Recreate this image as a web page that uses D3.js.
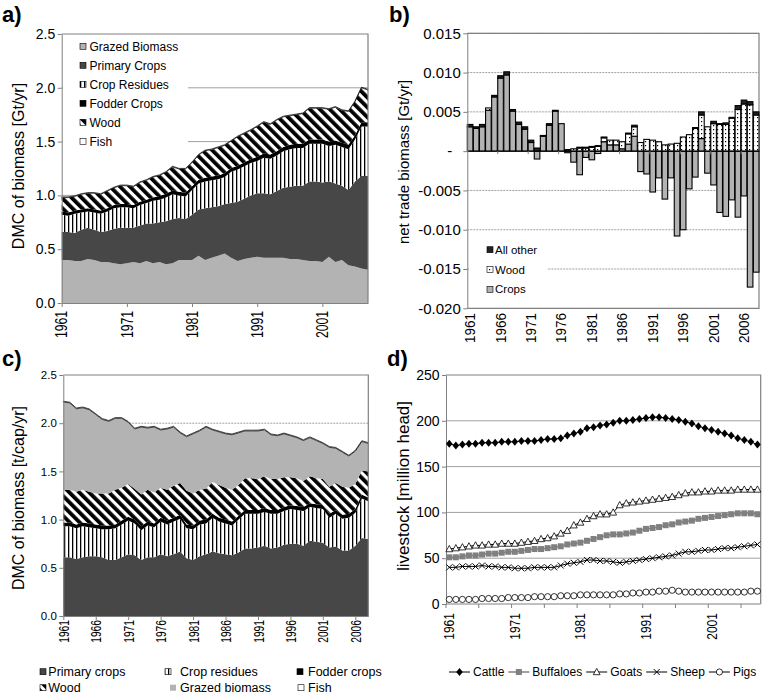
<!DOCTYPE html>
<html><head><meta charset="utf-8">
<script src="https://cdn.jsdelivr.net/npm/d3@7"></script>
<style>body{margin:0;background:#fff} svg{display:block} text{font-family:"Liberation Sans",Arial,Helvetica,sans-serif}</style>
</head><body>
<svg id="chart" width="763" height="696"></svg>
<script>
const FONT = '"Liberation Sans",Arial,Helvetica,sans-serif';
const years = [1961,1962,1963,1964,1965,1966,1967,1968,1969,1970,1971,1972,1973,1974,1975,1976,1977,1978,1979,1980,
1981,1982,1983,1984,1985,1986,1987,1988,1989,1990,1991,1992,1993,1994,1995,1996,1997,1998,1999,2000,
2001,2002,2003,2004,2005,2006,2007,2008];

// ---- panel a: DMC of biomass [Gt/yr]
const aGrazed = [0.40,0.40,0.39,0.39,0.41,0.40,0.38,0.38,0.37,0.36,0.37,0.38,0.37,0.39,0.37,0.38,0.36,0.37,0.40,0.40,
0.40,0.44,0.40,0.42,0.44,0.46,0.42,0.39,0.41,0.42,0.43,0.42,0.42,0.42,0.42,0.41,0.41,0.40,0.39,0.39,0.38,0.43,0.38,0.40,0.35,0.34,0.32,0.31];
const aPrimary = [0.26,0.26,0.26,0.29,0.29,0.28,0.28,0.29,0.32,0.34,0.33,0.32,0.35,0.35,0.37,0.37,0.40,0.41,0.39,0.38,
0.42,0.43,0.48,0.47,0.46,0.46,0.51,0.55,0.56,0.58,0.59,0.60,0.59,0.62,0.65,0.67,0.68,0.69,0.74,0.74,0.74,0.70,0.73,0.69,0.70,0.79,0.86,0.87];
const aResidues = [0.16,0.15,0.18,0.16,0.15,0.16,0.17,0.18,0.19,0.19,0.19,0.18,0.19,0.19,0.21,0.21,0.22,0.23,0.21,0.21,
0.23,0.24,0.25,0.25,0.25,0.25,0.29,0.30,0.30,0.30,0.30,0.33,0.33,0.33,0.34,0.35,0.35,0.35,0.35,0.35,0.36,0.33,0.36,0.36,0.38,0.39,0.46,0.46];
const aFodder = [0.03,0.03,0.03,0.03,0.03,0.03,0.03,0.03,0.03,0.03,0.03,0.03,0.03,0.03,0.03,0.035,0.035,0.035,0.035,0.035,
0.035,0.035,0.035,0.035,0.035,0.035,0.035,0.035,0.035,0.035,0.04,0.04,0.04,0.04,0.04,0.04,0.04,0.04,0.04,0.04,0.04,0.04,0.04,0.04,0.04,0.04,0.04,0.04];
const aWood = [0.13,0.14,0.13,0.14,0.14,0.15,0.15,0.16,0.16,0.17,0.17,0.17,0.18,0.18,0.19,0.19,0.20,0.22,0.21,0.22,
0.22,0.23,0.25,0.25,0.26,0.26,0.25,0.27,0.27,0.27,0.28,0.29,0.28,0.29,0.28,0.27,0.27,0.28,0.29,0.29,0.29,0.30,0.31,0.30,0.31,0.31,0.32,0.30];
const aFish = [0.006,0.006,0.006,0.006,0.006,0.006,0.006,0.006,0.006,0.006,0.006,0.006,0.006,0.006,0.006,0.006,0.006,0.006,0.006,0.006,
0.006,0.006,0.006,0.006,0.006,0.006,0.006,0.006,0.006,0.006,0.006,0.006,0.006,0.006,0.006,0.006,0.006,0.006,0.006,0.006,0.006,0.006,0.006,0.006,0.006,0.006,0.006,0.006];
const aTicks = [0,0.5,1.0,1.5,2.0,2.5];
const aYearTicks = [1961,1971,1981,1991,2001];

// ---- panel b: net trade biomass [Gt/yr]
const bCrops = [0.0031,0.0029,0.0031,0.0052,0.0069,0.0093,0.0097,0.0051,0.0034,0.0028,0.0011,-0.0010,0.0019,0.0033,0.0051,0.0035,-0.0002,-0.0014,-0.0030,-0.0008,
-0.0011,-0.0003,0.0012,0.0008,0.0008,0.0003,0.0009,0.0019,-0.0026,-0.0029,-0.0052,-0.0034,-0.0061,-0.0034,-0.0108,-0.0100,-0.0048,-0.0033,0.0016,-0.0028,
-0.0043,-0.0078,-0.0083,-0.0062,-0.0084,-0.0057,-0.0173,-0.0154];
const bWood = [0,0,0,0.0003,0,0,0,0,0,0,0,0,0,0,0,0,0,0.0003,0.0004,0.0004,
0.0005,0.0006,0.0005,0.0006,0.0006,0.0009,0.0013,0.0012,0.0011,0.0015,0.0014,0.0012,0.0008,0.0009,0.0010,0.0018,0.0021,0.0029,0.0030,0.0031,
0.0035,0.0034,0.0034,0.0042,0.0053,0.0060,0.0059,0.0046];
const bOther = [0.0003,0.0002,0.0003,0,0.0002,0.0003,0.0004,0.0002,0.0003,0.0003,0.0003,0.0004,0.0001,0.0002,0.0001,0,0.0002,0,0.0001,0.0001,
0.0001,0.0001,0.0001,0,0,0,0.0001,0.0002,0,0,0,0,0,0,0,0,0,0.0001,0.0004,0,
0.0003,0.0001,0.0002,0.0001,0.0005,0.0005,0.0004,0.0004];
const bTicks = [0.015,0.010,0.005,0,-0.005,-0.010,-0.015,-0.020];

// ---- panel c: DMC of biomass [t/cap/yr]
const cPrimary = [0.61,0.61,0.59,0.61,0.62,0.62,0.61,0.58,0.58,0.61,0.64,0.63,0.58,0.61,0.61,0.64,0.62,0.64,0.67,0.60,
0.58,0.62,0.64,0.67,0.65,0.64,0.63,0.66,0.70,0.70,0.71,0.73,0.70,0.71,0.74,0.75,0.75,0.73,0.78,0.77,0.76,0.71,0.72,0.68,0.68,0.73,0.81,0.80];
const cResidues = [0.32,0.32,0.32,0.32,0.30,0.29,0.29,0.32,0.33,0.34,0.35,0.33,0.31,0.33,0.31,0.34,0.33,0.34,0.34,0.31,
0.32,0.33,0.32,0.35,0.33,0.32,0.31,0.34,0.36,0.36,0.35,0.35,0.36,0.35,0.35,0.36,0.35,0.36,0.35,0.35,0.35,0.31,0.34,0.33,0.34,0.34,0.41,0.39];
const cFodder = [0.04,0.04,0.04,0.04,0.04,0.04,0.04,0.04,0.04,0.04,0.04,0.04,0.04,0.04,0.04,0.04,0.04,0.04,0.04,0.04,
0.04,0.04,0.04,0.04,0.04,0.04,0.04,0.04,0.04,0.04,0.04,0.04,0.04,0.04,0.04,0.04,0.04,0.04,0.04,0.04,0.04,0.04,0.04,0.04,0.04,0.04,0.04,0.04];
const cWood = [0.34,0.34,0.34,0.34,0.33,0.32,0.33,0.33,0.36,0.34,0.34,0.32,0.33,0.33,0.32,0.31,0.32,0.33,0.33,0.35,
0.33,0.32,0.32,0.33,0.34,0.33,0.33,0.32,0.33,0.33,0.32,0.33,0.32,0.32,0.31,0.29,0.29,0.27,0.28,0.27,0.27,0.28,0.28,0.29,0.27,0.26,0.25,0.27];
const cGrazed = [0.91,0.90,0.86,0.85,0.85,0.82,0.77,0.75,0.74,0.72,0.64,0.62,0.70,0.64,0.68,0.60,0.63,0.61,0.52,0.56,
0.62,0.61,0.64,0.54,0.55,0.56,0.57,0.54,0.49,0.49,0.50,0.48,0.46,0.45,0.45,0.43,0.42,0.42,0.40,0.39,0.37,0.41,0.36,0.36,0.33,0.34,0.30,0.29];
const cFish = [0.008,0.008,0.008,0.008,0.008,0.008,0.008,0.008,0.008,0.008,0.008,0.008,0.008,0.008,0.008,0.008,0.008,0.008,0.008,0.008,
0.008,0.008,0.008,0.008,0.008,0.008,0.008,0.008,0.008,0.008,0.008,0.008,0.008,0.008,0.008,0.008,0.008,0.008,0.008,0.008,0.008,0.008,0.008,0.008,0.008,0.008,0.008,0.008];
const cTicks = [0,0.5,1.0,1.5,2.0,2.5];

// ---- panel d: livestock [million head]
const dCattle = [175,173,174,175,175,176,176,176,177,177,177,178,178,178,179,180,180,181,184,186,
188,192,193,195,196,198,200,200,201,202,203,204,204,203,202,201,199,197,194,192,190,188,186,184,181,179,177,174];
const dBuffaloes = [51,51,52,53,53,54,55,55,56,57,57,58,59,60,60,61,62,63,65,66,
67,69,71,73,75,76,76,77,78,80,82,83,84,86,87,89,90,91,93,94,95,96,97,98,99,99,99,98];
const dGoats = [60,61,62,63,64,64,65,65,66,66,66,67,68,69,71,72,74,77,80,86,
89,93,96,98,98,100,108,110,111,112,113,114,115,116,117,119,121,122,122,123,123,124,124,124,125,125,125,125];
const dSheep = [40,40,41,41,41,42,41,41,40,40,39,39,39,40,40,40,40,42,44,45,
46,48,48,47,47,46,45,46,47,48,49,50,51,52,53,55,57,57,58,59,59,60,61,61,62,63,64,65];
const dPigs = [5,5,5,5,5,6,6,6,6,7,7,7,7,8,8,8,8,9,9,9,
10,10,10,10,10,10,11,11,12,12,13,13,14,14,15,14,13,13,13,13,13,13,13,13,13,13,14,14];
const dTicks = [0,50,100,150,200,250];

// ================= drawing =================
const svg = d3.select('#chart');
const defs = svg.append('defs');
const GRID = '#a0a0a0', AX = '#808080';

// patterns
const pw = defs.append('pattern').attr('id','woodHatch').attr('patternUnits','userSpaceOnUse')
  .attr('width',7).attr('height',7).attr('patternTransform','rotate(-45)');
pw.append('rect').attr('width',7).attr('height',7).attr('fill','#fff');
pw.append('rect').attr('width',3.8).attr('height',7).attr('fill','#000');
const pr = defs.append('pattern').attr('id','resHatch').attr('patternUnits','userSpaceOnUse').attr('width',4).attr('height',4);
pr.append('rect').attr('width',4).attr('height',4).attr('fill','#fff');
pr.append('rect').attr('width',1.3).attr('height',4).attr('fill','#000');
const pd = defs.append('pattern').attr('id','dots').attr('patternUnits','userSpaceOnUse').attr('width',4).attr('height',4);
pd.append('rect').attr('width',4).attr('height',4).attr('fill','#fff');
pd.append('rect').attr('x',1).attr('y',1).attr('width',1.2).attr('height',1.2).attr('fill','#000');

const fills = {grazed:'#b3b3b3', primary:'#474747', residues:'url(#resHatch)', fodder:'#000', wood:'url(#woodHatch)', fish:'#fff'};

function letter(x, y, t){ svg.append('text').attr('x',x).attr('y',y).attr('font-size',22).attr('font-weight','bold').text(t); }
function ytitle(x, y, t, fs){ svg.append('text').attr('transform',`translate(${x},${y}) rotate(-90)`).attr('text-anchor','middle').attr('dy','0.35em').attr('font-size',fs).text(t); }
function vlabel(g, x, yTop, t, fs, sx){ g.append('text').attr('transform',`translate(${x},${yTop}) rotate(-90) scale(${sx},1)`).attr('text-anchor','end').attr('dy','0.36em').attr('font-size',fs).text(t); }
function yAxis(scale, x, ticks, fmt, fs){
  const g = svg.append('g').attr('transform',`translate(${x},0)`).call(d3.axisLeft(scale).tickValues(ticks).tickFormat(fmt).tickSize(4).tickPadding(2.5).tickSizeOuter(0));
  g.select('.domain').attr('stroke',AX);
  g.selectAll('.tick line').attr('stroke',AX);
  g.selectAll('.tick text').attr('font-size',fs).attr('font-family',FONT).attr('fill','#000');
  return g;
}
function frame(x0,x1,y0,y1,bottom){
  svg.append('path').attr('d',`M${x0},${y0}H${x1}V${y1}` + (bottom?`H${x0}`:'')).attr('fill','none').attr('stroke',AX).attr('stroke-width',1.2);
}

// ---------- Panel a ----------
{
  const x = d3.scaleLinear().domain([1961,2008]).range([61.7,368]);
  const y = d3.scaleLinear().domain([0,2.5]).range([303,34]);
  const keys = ['grazed','primary','residues','fodder','wood','fish'];
  const rows = years.map((yr,i)=>({year:yr, grazed:aGrazed[i], primary:aPrimary[i], residues:aResidues[i], fodder:aFodder[i], wood:aWood[i], fish:aFish[i]}));
  const series = d3.stack().keys(keys)(rows);
  svg.append('g').selectAll('line').data([0.5,1.0,1.5,2.0]).join('line')
    .attr('x1',x.range()[0]).attr('x2',x.range()[1]).attr('y1',d=>y(d)).attr('y2',d=>y(d)).attr('stroke',GRID);
  const area = d3.area().x(d=>x(d.data.year)).y0(d=>y(d[0])).y1(d=>y(d[1]));
  svg.append('g').selectAll('path').data(series).join('path').attr('d',area).attr('fill',d=>fills[d.key])
    .attr('stroke',d=>d.key==='fish'?'#000':'none').attr('stroke-width',0.7);
  frame(61.7,368,34,303,false);
  // legend
  svg.append('rect').attr('x',63).attr('y',36).attr('width',125).attr('height',114).attr('fill','#fff');
  const labels = ['Grazed Biomass','Primary Crops','Crop Residues','Fodder Crops','Wood','Fish'];
  labels.forEach((t,i)=>{
    const yy = 46.3 + i*19;
    svg.append('rect').attr('x',80).attr('y',yy-3).attr('width',6).attr('height',6).attr('fill',fills[keys[i]]).attr('stroke','#000').attr('stroke-width',0.6);
    svg.append('text').attr('x',89.5).attr('y',yy).attr('dy','0.36em').attr('font-size',12).text(t);
  });
  yAxis(y, 61.7, aTicks, d3.format('.1f'), 14);
  const gx = svg.append('g').attr('transform','translate(0,303)').call(d3.axisBottom(x).tickValues(aYearTicks).tickFormat('').tickSize(4).tickSizeOuter(0));
  gx.select('.domain').attr('stroke',AX); gx.selectAll('.tick line').attr('stroke',AX);
  const gl = svg.append('g');
  aYearTicks.forEach(t=>vlabel(gl, x(t), 311, String(t), 16, 0.76));
  ytitle(18.5, 166, 'DMC of biomass [Gt/yr]', 16);
  letter(2, 22, 'a)');
}

// ---------- Panel b ----------
{
  const x = d3.scaleBand().domain(years).range([467.3,759]).paddingInner(0.08);
  const y = d3.scaleLinear().domain([-0.020,0.015]).range([308.3,33.3]);
  const keys = ['crops','wood','other'];
  const rows = years.map((yr,i)=>({year:yr, crops:bCrops[i], wood:bWood[i], other:bOther[i]}));
  const series = d3.stack().keys(keys).offset(d3.stackOffsetDiverging)(rows);
  const bf = {crops:'#b3b3b3', wood:'url(#dots)', other:'#222'};
  svg.append('g').selectAll('line').data([0.015,0.010,0.005,-0.005,-0.010,-0.015]).join('line')
    .attr('x1',467.3).attr('x2',759).attr('y1',d=>y(d)).attr('y2',d=>y(d)).attr('stroke',GRID).attr('stroke-dasharray','2,1');
  frame(467.3,759,33.3,308.3,true);
  // legend box
  svg.append('rect').attr('x',469).attr('y',238).attr('width',78).attr('height',62).attr('fill','#fff');
  svg.append('g').selectAll('g').data(series).join('g').attr('fill',d=>bf[d.key])
    .selectAll('rect').data(d=>d.filter(v=>v[1]-v[0]!==0)).join('rect')
    .attr('x',d=>x(d.data.year)).attr('width',x.bandwidth())
    .attr('y',d=>y(Math.max(d[0],d[1]))).attr('height',d=>Math.abs(y(d[0])-y(d[1])))
    .attr('stroke','#000').attr('stroke-width',1.1);
  // zero axis
  const step = x.step();
  svg.append('line').attr('x1',467.3).attr('x2',759).attr('y1',y(0)).attr('y2',y(0)).attr('stroke','#000').attr('stroke-width',1);
  svg.append('g').selectAll('line').data([5,10,15,20,25,30,35,40,45]).join('line')
    .attr('x1',d=>467.3+step*d).attr('x2',d=>467.3+step*d).attr('y1',y(0)).attr('y2',y(0)+3).attr('stroke',AX);
  const ga = yAxis(y, 467.3, bTicks, d=> d===0 ? '-' : d3.format('.3f')(d).replace('\u2212','-'), 15);
  ga.selectAll('.tick text').filter(d=>d===0).attr('x',-15);
  const gl = svg.append('g');
  [1961,1966,1971,1976,1981,1986,1991,1996,2001,2006].forEach(t=>vlabel(gl, x(t)+x.bandwidth()/2, 313, String(t), 14, 0.96));
  const bl = [['All other','other'],['Wood','wood'],['Crops','crops']];
  bl.forEach(([t,k],i)=>{
    const yy = 249.7 + i*19.8;
    svg.append('rect').attr('x',487).attr('y',yy-3).attr('width',6).attr('height',6).attr('fill',bf[k]).attr('stroke','#000').attr('stroke-width',0.6);
    svg.append('text').attr('x',495).attr('y',yy).attr('dy','0.36em').attr('font-size',11.5).text(t);
  });
  ytitle(404, 162, 'net trade biomass [Gt/yr]', 15);
  letter(389, 22, 'b)');
}

// ---------- Panel c ----------
{
  const x = d3.scaleLinear().domain([1961,2008]).range([63.3,368.3]);
  const y = d3.scaleLinear().domain([0,2.5]).range([616,375]);
  const keys = ['primary','residues','fodder','wood','grazed','fish'];
  const rows = years.map((yr,i)=>({year:yr, primary:cPrimary[i], residues:cResidues[i], fodder:cFodder[i], wood:cWood[i], grazed:cGrazed[i], fish:cFish[i]}));
  const series = d3.stack().keys(keys)(rows);
  svg.append('g').selectAll('line').data([0.5,1.0,1.5,2.0]).join('line')
    .attr('x1',x.range()[0]).attr('x2',x.range()[1]).attr('y1',d=>y(d)).attr('y2',d=>y(d)).attr('stroke',GRID).attr('stroke-dasharray','2,1');
  const area = d3.area().x(d=>x(d.data.year)).y0(d=>y(d[0])).y1(d=>y(d[1]));
  svg.append('g').selectAll('path').data(series).join('path').attr('d',area).attr('fill',d=>fills[d.key])
    .attr('stroke',d=>d.key==='fish'?'#000':'none').attr('stroke-width',0.7);
  frame(63.3,368.3,375,616,false);
  yAxis(y, 63.3, cTicks, d3.format('.1f'), 11.5);
  const yt = [1961,1966,1971,1976,1981,1986,1991,1996,2001,2006];
  const gx = svg.append('g').attr('transform','translate(0,616)').call(d3.axisBottom(x).tickValues(yt).tickFormat('').tickSize(4).tickSizeOuter(0));
  gx.select('.domain').attr('stroke',AX); gx.selectAll('.tick line').attr('stroke',AX);
  const gl = svg.append('g');
  yt.forEach(t=>vlabel(gl, x(t), 620, String(t), 15.5, 0.66));
  ytitle(18.5, 498, 'DMC of biomass [t/cap/yr]', 16);
  letter(2, 366, 'c)');
  // legend
  const items = [['Primary crops','primary',40,671.7,48.3],['Crop residues','residues',165,671.7,180],['Fodder crops','fodder',297,671.7,308],
                 ['Wood','wood',40,687.7,48.3],['Grazed biomass','grazed',170,687.7,180],['Fish','fish',298,687.7,308]];
  items.forEach(([t,k,xx,yy,tx])=>{
    svg.append('rect').attr('x',xx).attr('y',yy-3).attr('width',6).attr('height',6).attr('fill',fills[k]).attr('stroke',k==='grazed'?'none':'#000').attr('stroke-width',0.6);
    svg.append('text').attr('x',tx).attr('y',yy).attr('dy','0.36em').attr('font-size',12.5).text(t);
  });
}

// ---------- Panel d ----------
{
  const x = d3.scaleBand().domain(years).range([446,760.7]);
  const cx = yr => x(yr) + x.bandwidth()/2;
  const y = d3.scaleLinear().domain([0,250]).range([604,375]);
  svg.append('g').selectAll('line').data([50,100,150,200]).join('line')
    .attr('x1',446).attr('x2',760.7).attr('y1',d=>y(d)).attr('y2',d=>y(d)).attr('stroke',GRID);
  frame(446,760.7,375,604,false);
  yAxis(y, 446, dTicks, d3.format('d'), 14);
  const step = x.step();
  svg.append('line').attr('x1',446).attr('x2',760.7).attr('y1',604).attr('y2',604).attr('stroke',AX);
  svg.append('g').selectAll('line').data([0,5,10,15,20,25,30,35,40,45]).join('line')
    .attr('x1',d=>446+step*d).attr('x2',d=>446+step*d).attr('y1',604).attr('y2',608).attr('stroke',AX);
  const gl = svg.append('g');
  [1961,1971,1981,1991,2001].forEach(t=>vlabel(gl, cx(t), 613, String(t), 14, 0.86));
  const line = d3.line().x((d,i)=>cx(years[i])).y(d=>y(d));
  const sym = {
    cattle: g=>g.append('path').attr('d','M0,-4L3.3,0L0,4L-3.3,0Z').attr('fill','#000'),
    buffaloes: g=>g.append('rect').attr('x',-3).attr('y',-3).attr('width',6).attr('height',6).attr('fill','#808080'),
    goats: g=>g.append('path').attr('d','M0,-3.6L3.4,2.7L-3.4,2.7Z').attr('fill','#fff').attr('stroke','#000').attr('stroke-width',0.8),
    sheep: g=>g.append('path').attr('d','M-3,-3L3,3M-3,3L3,-3').attr('stroke','#000').attr('stroke-width',1),
    pigs: g=>g.append('circle').attr('r',3.1).attr('fill','#fff').attr('stroke','#000').attr('stroke-width',0.8)
  };
  const sers = [['pigs',dPigs,'#000'],['sheep',dSheep,'#000'],['buffaloes',dBuffaloes,'#808080'],['goats',dGoats,'#000'],['cattle',dCattle,'#000']];
  sers.forEach(([k,vals,col])=>{
    svg.append('path').attr('d',line(vals)).attr('fill','none').attr('stroke',col).attr('stroke-width',k==='buffaloes'?1.5:1);
    vals.forEach((v,i)=>{ const g = svg.append('g').attr('transform',`translate(${cx(years[i])},${y(v)})`); sym[k](g); });
  });
  // legend
  const leg = [['Cattle','cattle','#000'],['Buffaloes','buffaloes','#808080'],['Goats','goats','#000'],['Sheep','sheep','#000'],['Pigs','pigs','#000']];
  let lx = 449; const ly = 672;
  leg.forEach(([t,k,col])=>{
    svg.append('line').attr('x1',lx).attr('x2',lx+21).attr('y1',ly).attr('y2',ly).attr('stroke',col).attr('stroke-width',k==='buffaloes'?1.5:1);
    sym[k](svg.append('g').attr('transform',`translate(${lx+10.5},${ly})`));
    const tx = svg.append('text').attr('x',lx+24).attr('y',ly).attr('dy','0.36em').attr('font-size',12).text(t);
    lx = lx + 24 + tx.node().getComputedTextLength() + 4;
  });
  ytitle(403, 486, 'livestock [million head]', 17);
  letter(387, 366, 'd)');
}
</script>
</body></html>
